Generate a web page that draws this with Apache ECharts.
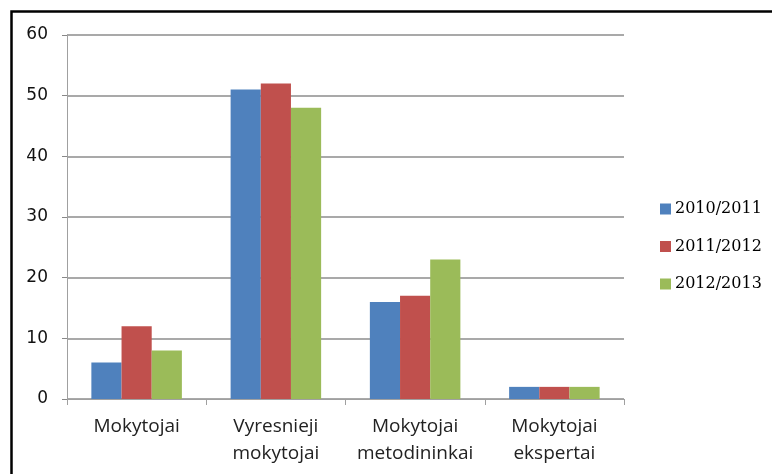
<!DOCTYPE html>
<html>
<head>
<meta charset="utf-8">
<script src="https://cdn.jsdelivr.net/npm/echarts@6/dist/echarts.min.js"></script>
<style>
html,body{margin:0;padding:0;background:#fff;}
#chart{width:772px;height:474px;}
</style>
</head>
<body>
<div id="chart"></div>
<script>
const categories = ['Mokytojai', 'Vyresnieji\nmokytojai', 'Mokytojai\nmetodininkai', 'Mokytojai\nekspertai'];
const seriesNames = ['2010/2011', '2011/2012', '2012/2013'];
const values2010 = [6, 51, 16, 2];
const values2011 = [12, 52, 17, 2];
const values2012 = [8, 48, 23, 2];
const yTicks = [0, 10, 20, 30, 40, 50, 60];

const colors = ['#4f81bd', '#c0504d', '#9bbb59'];
const chart = echarts.init(document.getElementById('chart'));
const allValues = [values2010, values2011, values2012];

chart.setOption({
  animation: false,
  grid: { left: 67, right: 148, top: 35, bottom: 75, containLabel: false },
  legend: {
    orient: 'vertical',
    left: 655,
    top: 196,
    itemWidth: 11,
    itemHeight: 11,
    itemGap: 21.5,
    icon: 'rect',
    textStyle: { fontFamily: 'DejaVu Serif', fontSize: 16, color: '#000', padding: [0, 0, 0, -1] },
    data: seriesNames
  },
  xAxis: {
    type: 'category',
    data: categories,
    axisLine: { lineStyle: { color: '#a0a0a0', width: 1 } },
    axisTick: { show: true, length: 6, lineStyle: { color: '#a0a0a0' } },
    axisLabel: { interval: 0, hideOverlap: false, fontFamily: 'Open Sans', fontSize: 19, color: '#222', margin: 14, lineHeight: 27 }
  },
  yAxis: {
    type: 'value',
    min: 0,
    max: 60,
    interval: 10,
    axisLine: { show: true, lineStyle: { color: '#a0a0a0' } },
    axisTick: { show: true, length: 5, lineStyle: { color: '#888' } },
    splitLine: { lineStyle: { color: '#8c8c8c', width: 1.5 } },
    axisLabel: {
      fontFamily: 'DejaVu Sans', fontSize: 17, color: '#111', margin: 19,
      formatter: v => yTicks.includes(v) ? String(v) : ''
    }
  },
  series: seriesNames.map((name, i) => ({
    name: name,
    type: 'bar',
    data: allValues[i],
    barGap: '0%',
    barCategoryGap: '35%',
    itemStyle: { color: colors[i] }
  })),
  graphic: [{
    type: 'rect',
    shape: { x: 11.5, y: 11.5, width: 800, height: 500 },
    style: { fill: 'none', stroke: '#000', lineWidth: 2.5 },
    silent: true
  }]
});
</script>
</body>
</html>
